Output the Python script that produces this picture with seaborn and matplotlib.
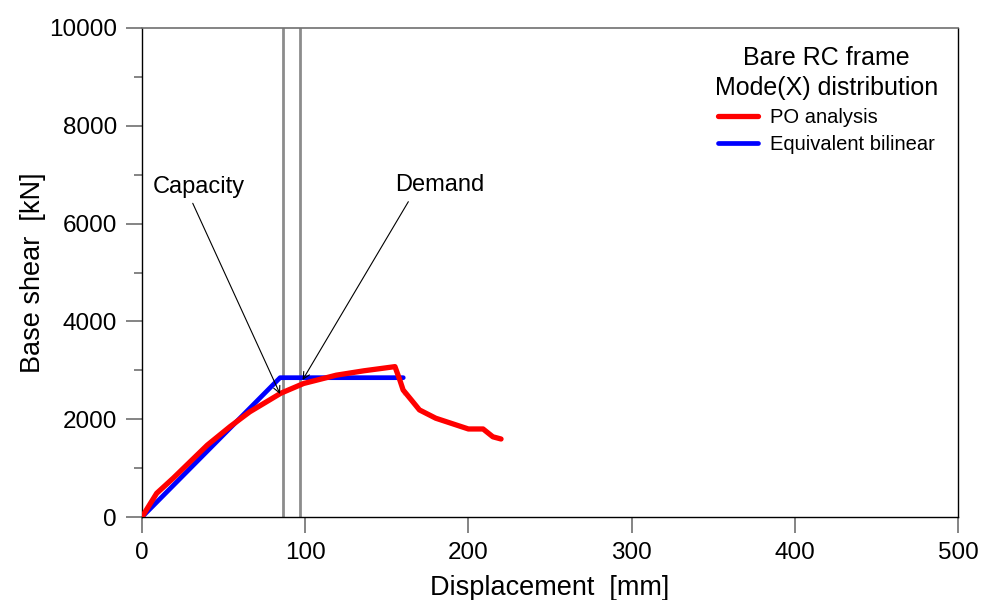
import numpy as np
import pandas as pd
import matplotlib
matplotlib.use("Agg")
import matplotlib.pyplot as plt
from matplotlib.ticker import MultipleLocator
import seaborn as sns

# pushover curve
po_disp = [0, 9, 19, 40, 54, 66, 85, 99, 119, 136, 155, 158, 160, 160, 165, 170, 180, 200, 209, 215, 220]
po_shear = [0, 485, 790, 1470, 1850, 2150, 2530, 2730, 2900, 2990, 3075, 2800, 2700, 2495, 2395, 2190, 2020, 1800, 1800, 1640, 1595]

# equivalent bilinear
bl_disp = [0, 84.6, 160.1]
bl_shear = [0, 2849, 2849]

# capacity / demand displacements
capacity_disp = 86.6
demand_disp = 97.0

sns.set_style("ticks", {"text.color": "black", "axes.labelcolor": "black",
                        "xtick.color": "black", "ytick.color": "black"})
plt.rcParams["font.family"] = ["Liberation Sans", "DejaVu Sans"]

po_df = pd.DataFrame({"disp": po_disp, "shear": po_shear})
bl_df = pd.DataFrame({"disp": bl_disp, "shear": bl_shear})

fig = plt.figure(figsize=(9.88, 6), dpi=100)
ax = fig.add_axes([142 / 988, 83 / 600, 816 / 988, 489 / 600])

ax.axvline(capacity_disp, color="#8c8c8c", lw=2, zorder=1)
ax.axvline(demand_disp, color="#8c8c8c", lw=2, zorder=1)

sns.lineplot(data=bl_df, x="disp", y="shear", sort=False, color="#0000ff", lw=3.4,
             label="Equivalent bilinear", ax=ax, zorder=3, solid_capstyle="round")
sns.lineplot(data=po_df, x="disp", y="shear", sort=False, color="#ff0000", lw=3.8,
             label="PO analysis", ax=ax, zorder=4, solid_capstyle="round")

ax.set_xlim(0, 500)
ax.set_ylim(0, 10000)
ax.xaxis.set_major_locator(MultipleLocator(100))
ax.yaxis.set_major_locator(MultipleLocator(2000))
ax.yaxis.set_minor_locator(MultipleLocator(1000))

ax.tick_params(axis="both", which="major", length=11.5, width=1.2, color="#707070",
               labelcolor="black", direction="out", pad=6.5, labelsize=17.5)
ax.tick_params(axis="y", which="minor", length=6, width=1.2, color="#707070", direction="out")

for side in ["left", "bottom", "right"]:
    ax.spines[side].set_color("black")
    ax.spines[side].set_linewidth(1.0)
ax.spines["top"].set_color("#707070")
ax.spines["top"].set_linewidth(1.2)

ax.set_xlabel("Displacement  [mm]", fontsize=19.5, color="black")
ax.set_ylabel("Base shear  [kN]", fontsize=19.5, color="black")
ax.xaxis.set_label_coords(0.5, -0.118)
ax.yaxis.set_label_coords(-0.118, 0.5)

# annotations
ax.text(6.7, 6620, "Capacity", fontsize=17, ha="left", va="baseline", color="black")
ax.text(155, 6673, "Demand", fontsize=17, ha="left", va="baseline", color="black")
arrow = dict(arrowstyle="->", color="black", lw=0.8, shrinkA=0, shrinkB=0, mutation_scale=12)
ax.annotate("", xy=(84.6, 2515), xytext=(31.1, 6415), arrowprops=arrow, zorder=5)
ax.annotate("", xy=(98.4, 2802), xytext=(163.2, 6448), arrowprops=arrow, zorder=5)

handles, labels = ax.get_legend_handles_labels()
order = [labels.index("PO analysis"), labels.index("Equivalent bilinear")]
leg = ax.legend([handles[i] for i in order], [labels[i] for i in order],
                title="Bare RC frame\nMode(X) distribution", title_fontsize=18, fontsize=14.5,
                loc="upper right", bbox_to_anchor=(0.9755, 0.963), frameon=False,
                borderpad=0, borderaxespad=0, handlelength=2.0, handletextpad=0.6,
                labelspacing=0.38)
leg.get_title().set_multialignment("center")
leg.get_title().set_linespacing(1.3)
leg.get_title().set_color("black")
for t in leg.get_texts():
    t.set_color("black")
leg._legend_box.sep = 6

fig.savefig("out.png", dpi=100)
